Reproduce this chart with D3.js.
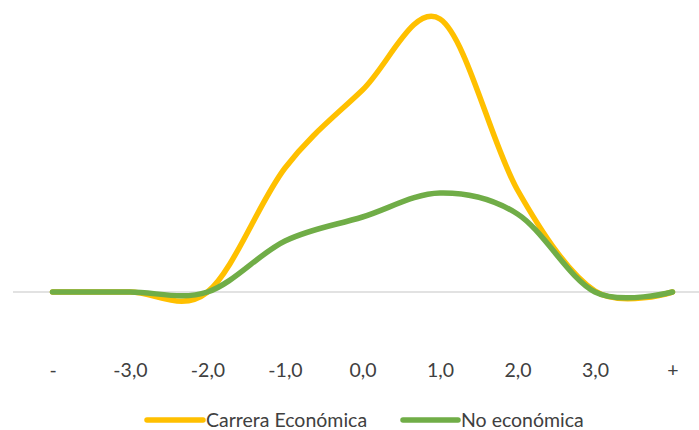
<!DOCTYPE html>
<html>
<head>
<meta charset="utf-8">
<script src="https://cdn.jsdelivr.net/npm/d3@7/dist/d3.min.js"></script>
<style>
  html, body { margin: 0; padding: 0; background: #fff; }
  svg { display: block; }
  text { font-family: Lato, "Open Sans", sans-serif; fill: #404040; }
</style>
</head>
<body>
<svg id="chart" width="699" height="430"></svg>
<script>
// Category labels along the horizontal axis
const categories = ["-", "-3,0", "-2,0", "-1,0", "0,0", "1,0", "2,0", "3,0", "+"];
// Density values for each group
const carreraEconomica = [0, 0, 0, 0.124, 0.202, 0.273, 0.102, 0.001, 0];
const noEconomica      = [0, 0, 0, 0.051, 0.075, 0.099, 0.078, 0, 0];
const seriesNames  = ["Carrera Económica", "No económica"];
const seriesColors = ["#FFC000", "#70AD47"];

const svg = d3.select("#chart");
const W = 699, H = 430;

const x = d3.scalePoint()
  .domain(categories)
  .range([52.5, 672.5]);

const y = d3.scaleLinear()
  .domain([0, 0.28])
  .range([292, 12]);

// zero baseline
svg.append("line")
  .attr("x1", 13).attr("x2", W)
  .attr("y1", y(0)).attr("y2", y(0))
  .attr("stroke", "#d9d9d9")
  .attr("stroke-width", 1.3);

// category axis (labels only)
const axis = d3.axisBottom(x).tickSize(0).tickPadding(0);
const gx = svg.append("g")
  .attr("transform", "translate(0,377)")
  .call(axis);
gx.select(".domain").remove();
gx.selectAll("text")
  .attr("y", 0)
  .attr("dy", "0")
  .style("font-size", "19.5px")
  .style("fill", "#404040");

const line = d3.line()
  .x((d, i) => x(categories[i]))
  .y(d => y(d))
  .curve(d3.curveCardinal.tension(0));

const series = [carreraEconomica, noEconomica];
series.forEach((vals, k) => {
  svg.append("path")
    .datum(vals)
    .attr("d", line)
    .attr("fill", "none")
    .attr("stroke", seriesColors[k])
    .attr("stroke-width", 5.5)
    .attr("stroke-linecap", "round")
    .attr("stroke-linejoin", "round");
});

// legend
const legendItems = [
  { x1: 147, x2: 203 },
  { x1: 403, x2: 458 }
];
const lg = svg.append("g");
seriesNames.forEach((name, k) => {
  const it = legendItems[k];
  lg.append("line")
    .attr("x1", it.x1).attr("x2", it.x2)
    .attr("y1", 420).attr("y2", 420)
    .attr("stroke", seriesColors[k])
    .attr("stroke-width", 5.5)
    .attr("stroke-linecap", "round");
  lg.append("text")
    .attr("x", it.x2 + 3)
    .attr("y", 427)
    .style("font-size", "19.5px")
    .text(name);
});
</script>
</body>
</html>
